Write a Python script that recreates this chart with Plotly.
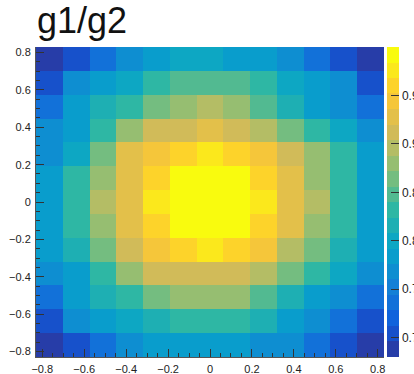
import numpy as np
import plotly.graph_objects as go

# ---- data ----
x_centers = [-0.766, -0.638, -0.511, -0.383, -0.255, -0.128, 0.0,
             0.128, 0.255, 0.383, 0.511, 0.638, 0.766]
y_centers = [0.766, 0.638, 0.511, 0.383, 0.255, 0.128, 0.0,
             -0.128, -0.255, -0.383, -0.511, -0.638, -0.766]  # top -> bottom

z_rows = [
    [0.684, 0.705, 0.735, 0.765, 0.785, 0.795, 0.795, 0.790, 0.780, 0.765, 0.740, 0.708, 0.686],
    [0.705, 0.765, 0.785, 0.800, 0.835, 0.850, 0.855, 0.850, 0.830, 0.800, 0.785, 0.765, 0.710],
    [0.735, 0.785, 0.810, 0.840, 0.860, 0.880, 0.890, 0.875, 0.845, 0.815, 0.790, 0.765, 0.740],
    [0.762, 0.790, 0.835, 0.880, 0.905, 0.915, 0.920, 0.915, 0.900, 0.870, 0.835, 0.805, 0.775],
    [0.775, 0.805, 0.865, 0.920, 0.948, 0.960, 0.975, 0.958, 0.945, 0.915, 0.875, 0.830, 0.785],
    [0.785, 0.835, 0.885, 0.930, 0.955, 0.990, 0.995, 0.990, 0.955, 0.920, 0.880, 0.835, 0.785],
    [0.785, 0.840, 0.895, 0.935, 0.970, 0.995, 0.998, 0.995, 0.970, 0.930, 0.895, 0.840, 0.785],
    [0.785, 0.835, 0.880, 0.925, 0.955, 0.990, 0.995, 0.990, 0.955, 0.920, 0.875, 0.830, 0.785],
    [0.785, 0.810, 0.865, 0.915, 0.948, 0.960, 0.970, 0.960, 0.945, 0.900, 0.865, 0.810, 0.780],
    [0.765, 0.790, 0.840, 0.880, 0.910, 0.915, 0.918, 0.912, 0.895, 0.870, 0.838, 0.800, 0.765],
    [0.735, 0.785, 0.810, 0.840, 0.860, 0.875, 0.885, 0.875, 0.845, 0.815, 0.790, 0.765, 0.740],
    [0.705, 0.765, 0.785, 0.795, 0.810, 0.830, 0.835, 0.830, 0.810, 0.790, 0.770, 0.740, 0.705],
    [0.684, 0.705, 0.740, 0.765, 0.780, 0.785, 0.790, 0.785, 0.768, 0.760, 0.740, 0.705, 0.684],
]

cbar_ticks = [0.7, 0.75, 0.8, 0.85, 0.9, 0.95]
cbar_labels = ["0.7", "0.75", "0.8", "0.85", "0.9", "0.95"]
axis_ticks = [-0.8, -0.6, -0.4, -0.2, 0, 0.2, 0.4, 0.6, 0.8]
axis_labels = ["\u22120.8", "\u22120.6", "\u22120.4", "\u22120.2", "0", "0.2", "0.4", "0.6", "0.8"]

# ---- ROOT kBird palette, 20 contour bands ----
stops = [0.0, 0.125, 0.25, 0.375, 0.5, 0.625, 0.75, 0.875, 1.0]
red = [0.2082, 0.0592, 0.0780, 0.0232, 0.1802, 0.5301, 0.8186, 0.9956, 0.9764]
green = [0.1664, 0.3599, 0.5041, 0.6419, 0.7178, 0.7492, 0.7328, 0.7862, 0.9832]
blue = [0.5293, 0.8684, 0.8385, 0.7914, 0.6425, 0.4662, 0.3499, 0.1968, 0.0539]
ncol = 255
ndiv = 20
colorscale = []
for k in range(ndiv):
    idx = int((k + 0.99) * ncol / ndiv)
    idx = min(idx, ncol - 1)
    t = idx / (ncol - 1)
    r = np.interp(t, stops, red)
    g = np.interp(t, stops, green)
    b = np.interp(t, stops, blue)
    c = "rgb(%d,%d,%d)" % (round(r * 255), round(g * 255), round(b * 255))
    colorscale.append([k / ndiv, c])
    colorscale.append([(k + 1) / ndiv, c])

zmin, zmax = 0.68, 1.0

fig = go.Figure()
fig.add_trace(go.Heatmap(
    x=x_centers, y=y_centers, z=z_rows,
    colorscale=colorscale, zmin=zmin, zmax=zmax,
    showscale=True,
    xgap=0, ygap=0,
    colorbar=dict(
        x=1.0086, xanchor="left", xref="paper",
        y=0.5, yanchor="middle", len=1.0, lenmode="fraction",
        thickness=12, thicknessmode="pixels",
        xpad=0, ypad=0,
        outlinewidth=0,
        tickmode="array", tickvals=cbar_ticks, ticktext=cbar_labels,
        ticks="inside", ticklen=8, tickwidth=1, tickcolor="#333333",
        tickfont=dict(family="Liberation Sans, Arial, sans-serif", size=12, color="#222222"),
    ),
))

font_ticks = dict(family="Liberation Sans, Arial, sans-serif", size=11, color="#222222")

fig.update_layout(
    width=414, height=374,
    margin=dict(l=36, r=30, t=47, b=17, pad=0, autoexpand=False),
    paper_bgcolor="white", plot_bgcolor="white",
    showlegend=False,
    xaxis=dict(
        range=[-0.83, 0.83], tickmode="array", tickvals=axis_ticks, ticktext=axis_labels,
        ticks="inside", ticklen=8, tickwidth=1, tickcolor="#333333",
        minor=dict(ticks="inside", ticklen=4, dtick=0.05, tick0=0, tickcolor="#333333", tickwidth=1),
        showgrid=False, zeroline=False, showline=True, linecolor="#555555", linewidth=1,
        tickfont=font_ticks, ticklabelstandoff=2, automargin=False,
    ),
    yaxis=dict(
        range=[-0.83, 0.83], tickmode="array", tickvals=axis_ticks, ticktext=axis_labels,
        ticks="inside", ticklen=8, tickwidth=1, tickcolor="#333333",
        minor=dict(ticks="inside", ticklen=4, dtick=0.05, tick0=0, tickcolor="#333333", tickwidth=1),
        showgrid=False, zeroline=False, showline=True, linecolor="#555555", linewidth=1,
        tickfont=font_ticks, ticklabelstandoff=2, automargin=False,
    ),
    annotations=[dict(
        text="g1/g2", xref="paper", yref="paper", x=-0.003, y=1.087,
        xanchor="left", yanchor="middle", showarrow=False,
        font=dict(family="Liberation Sans, Arial, sans-serif", size=36, color="#111111"),
    )],
)

fig.write_html("out.html")
